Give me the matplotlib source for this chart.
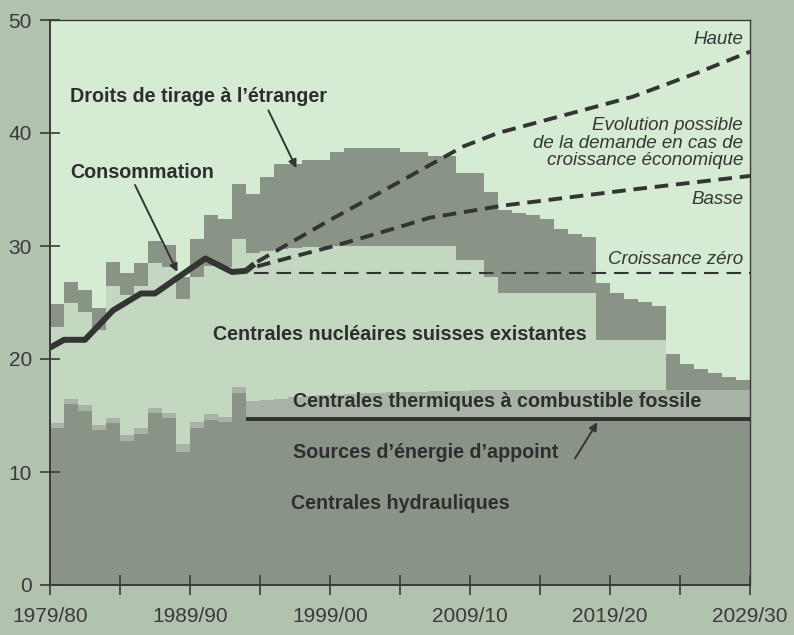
import matplotlib
matplotlib.use("Agg")
import matplotlib.pyplot as plt
import numpy as np

plt.rcParams['font.family'] = ['Liberation Sans', 'DejaVu Sans']

# ---------------- data ----------------
# one step per year, index 0 = 1979/80 ... 50 = 2029/30
year_edges = list(range(0, 51))
tick_positions = [0, 10, 20, 30, 40, 50]
tick_labels = ['1979/80', '1989/90', '1999/00', '2009/10', '2019/20', '2029/30']
minor_positions = [5, 15, 25, 35, 45]
y_ticks = [0, 10, 20, 30, 40, 50]

hydro = [13.9, 16.0, 15.4, 13.7, 14.3, 12.7, 13.4, 15.2, 14.8, 11.8, 13.9, 14.6, 14.4, 17.0] + [14.5] * 36
appoint = [0.0] * 14 + [0.35] * 36
thermal = ([0.4, 0.5, 0.5, 0.5, 0.5, 0.6, 0.5, 0.5, 0.4, 0.7, 0.5, 0.5, 0.5, 0.5]
           + [1.45, 1.55, 1.65, 1.75, 1.85, 1.95, 2.0, 2.05, 2.1, 2.15, 2.2, 2.25, 2.25, 2.3, 2.35, 2.35, 2.4]
           + [2.45] * 19)
nuclear = ([8.5, 8.5, 8.3, 8.4, 11.7, 12.4, 12.6, 12.8, 12.9, 12.8, 12.9, 13.1, 13.2, 13.1]
           + [13.1, 13.15, 13.2, 13.2, 13.2, 13.15, 13.15, 13.1, 13.05, 13.0, 12.95, 12.9, 12.9, 12.85, 12.8]
           + [11.6, 11.55, 10.0] + [8.5] * 7 + [4.4] * 5 + [0.0] * 6)
droits = [2.1, 1.8, 1.9, 1.9, 2.1, 1.9, 2.0, 1.9, 2.0, 2.0,
          3.3, 4.5, 4.3, 4.9, 5.2, 6.55, 7.6, 7.5, 7.7, 7.65,
          8.3, 8.7, 8.7, 8.7, 8.7, 8.3, 8.3, 8.0, 8.0, 7.7,
          7.7, 7.5, 7.4, 7.1, 6.9, 6.6, 5.7, 5.3, 5.0, 5.0,
          4.1, 3.6, 3.3, 3.0, 3.1, 2.3, 1.8, 1.5, 1.1, 0.8]

cons_t = [0, 1, 2.5, 4.5, 6.5, 7.5, 9, 11.1, 13.0, 14.0, 14.6]
cons_v = [21.0, 21.7, 21.7, 24.3, 25.8, 25.8, 27.1, 28.9, 27.7, 27.8, 28.4]

haute_t = [14.8, 20, 25, 29.5, 32, 38, 41.6, 46.4, 50]
haute_v = [28.6, 32.3, 35.7, 38.8, 40.0, 42.0, 43.2, 45.4, 47.2]
basse_t = [14.8, 17.2, 20.3, 25, 27.1, 32.5, 41.6, 50]
basse_v = [28.2, 29.0, 30.0, 31.7, 32.5, 33.6, 35.0, 36.2]
zero_t = [14.6, 50]
zero_v = [27.6, 27.6]

# ---------------- style ----------------
FIG_BG = '#b3c2af'
AX_BG = '#d6ebd3'
DARK = '#899486'
THERM = '#a7b3a4'
NUC = '#c4d7c1'
BLACK = '#333532'
TXT = '#2e2e2e'

fig = plt.figure(figsize=(7.94, 6.35), dpi=100, facecolor=FIG_BG)
ax = fig.add_axes([50 / 794, 50 / 635, 700 / 794, 565 / 635])
ax.set_facecolor(AX_BG)

edges = np.array(year_edges, dtype=float)
h = np.array(hydro)
a = h + np.array(appoint)
t = a + np.array(thermal)
n = t + np.array(nuclear)
d = n + np.array(droits)

ax.stairs(h, edges, baseline=0, fill=True, color=DARK, lw=0)
ax.stairs(a, edges, baseline=h, fill=True, color=BLACK, lw=0)
ax.stairs(t, edges, baseline=a, fill=True, color=THERM, lw=0)
ax.stairs(n, edges, baseline=t, fill=True, color=NUC, lw=0)
ax.stairs(d, edges, baseline=n, fill=True, color=DARK, lw=0)

# consumption and scenarios
ax.plot(cons_t, cons_v, color=BLACK, lw=4.3, solid_joinstyle='round', solid_capstyle='butt', zorder=5)
ax.plot(haute_t, haute_v, color=BLACK, lw=2.8, dashes=(3.5, 2.0), zorder=5)
ax.plot(basse_t, basse_v, color=BLACK, lw=2.8, dashes=(3.5, 2.0), zorder=5)
ax.plot(zero_t, zero_v, color=BLACK, lw=1.5, dashes=(7.0, 3.8), zorder=5)

# axes
ax.set_xlim(0, 50)
ax.set_ylim(0, 50)
ax.set_xticks(tick_positions)
ax.set_xticklabels(tick_labels)
ax.set_xticks(minor_positions, minor=True)
ax.set_yticks(y_ticks)
ax.tick_params(which='both', direction='inout', length=14, width=1.2, color='#3a3a3a')
ax.tick_params(axis='both', labelsize=15, labelcolor='#3a3a3a')
ax.tick_params(axis='x', pad=9)
ax.tick_params(axis='y', pad=6)
for s in ['left', 'bottom']:
    ax.spines[s].set_linewidth(1.4)
    ax.spines[s].set_color('#3a3a3a')
for s in ['top', 'right']:
    ax.spines[s].set_linewidth(1.0)
    ax.spines[s].set_color('#3a3a3a')

bold = dict(fontsize=14.2, fontweight='bold', color=TXT)
ax.text(1.43, 43.2, "Droits de tirage à l\u2019étranger", ha='left', va='center', **bold)
ax.text(1.43, 36.5, "Consommation", ha='left', va='center', **bold)
ax.text(25.0, 22.2, "Centrales nucléaires suisses existantes", ha='center', va='center', **bold)
ax.text(17.36, 16.2, "Centrales thermiques à combustible fossile", ha='left', va='center', **bold)
ax.text(17.36, 11.7, "Sources d\u2019énergie d\u2019appoint", ha='left', va='center', **bold)
ax.text(17.2, 7.2, "Centrales hydrauliques", ha='left', va='center', **bold)

ital = dict(fontsize=13.5, fontstyle='italic', color='#363636', ha='right', va='center')
ax.text(49.5, 48.3, "Haute", **ital)
ax.text(49.5, 39.1, "Evolution possible\nde la demande en cas de\ncroissance économique", linespacing=1.06, **ital)
ax.text(49.5, 34.1, "Basse", **ital)
ax.text(49.5, 28.8, "Croissance zéro", **ital)

arrow = dict(arrowstyle='-|>', color=BLACK, lw=1.4, mutation_scale=12, shrinkA=0, shrinkB=0)
ax.annotate('', xy=(17.6, 36.9), xytext=(15.6, 42.0), arrowprops=arrow)
ax.annotate('', xy=(9.1, 27.7), xytext=(6.07, 35.4), arrowprops=arrow)
ax.annotate('', xy=(39.1, 14.4), xytext=(37.5, 11.2), arrowprops=arrow)

fig.savefig('out.png', dpi=100, facecolor=FIG_BG)
